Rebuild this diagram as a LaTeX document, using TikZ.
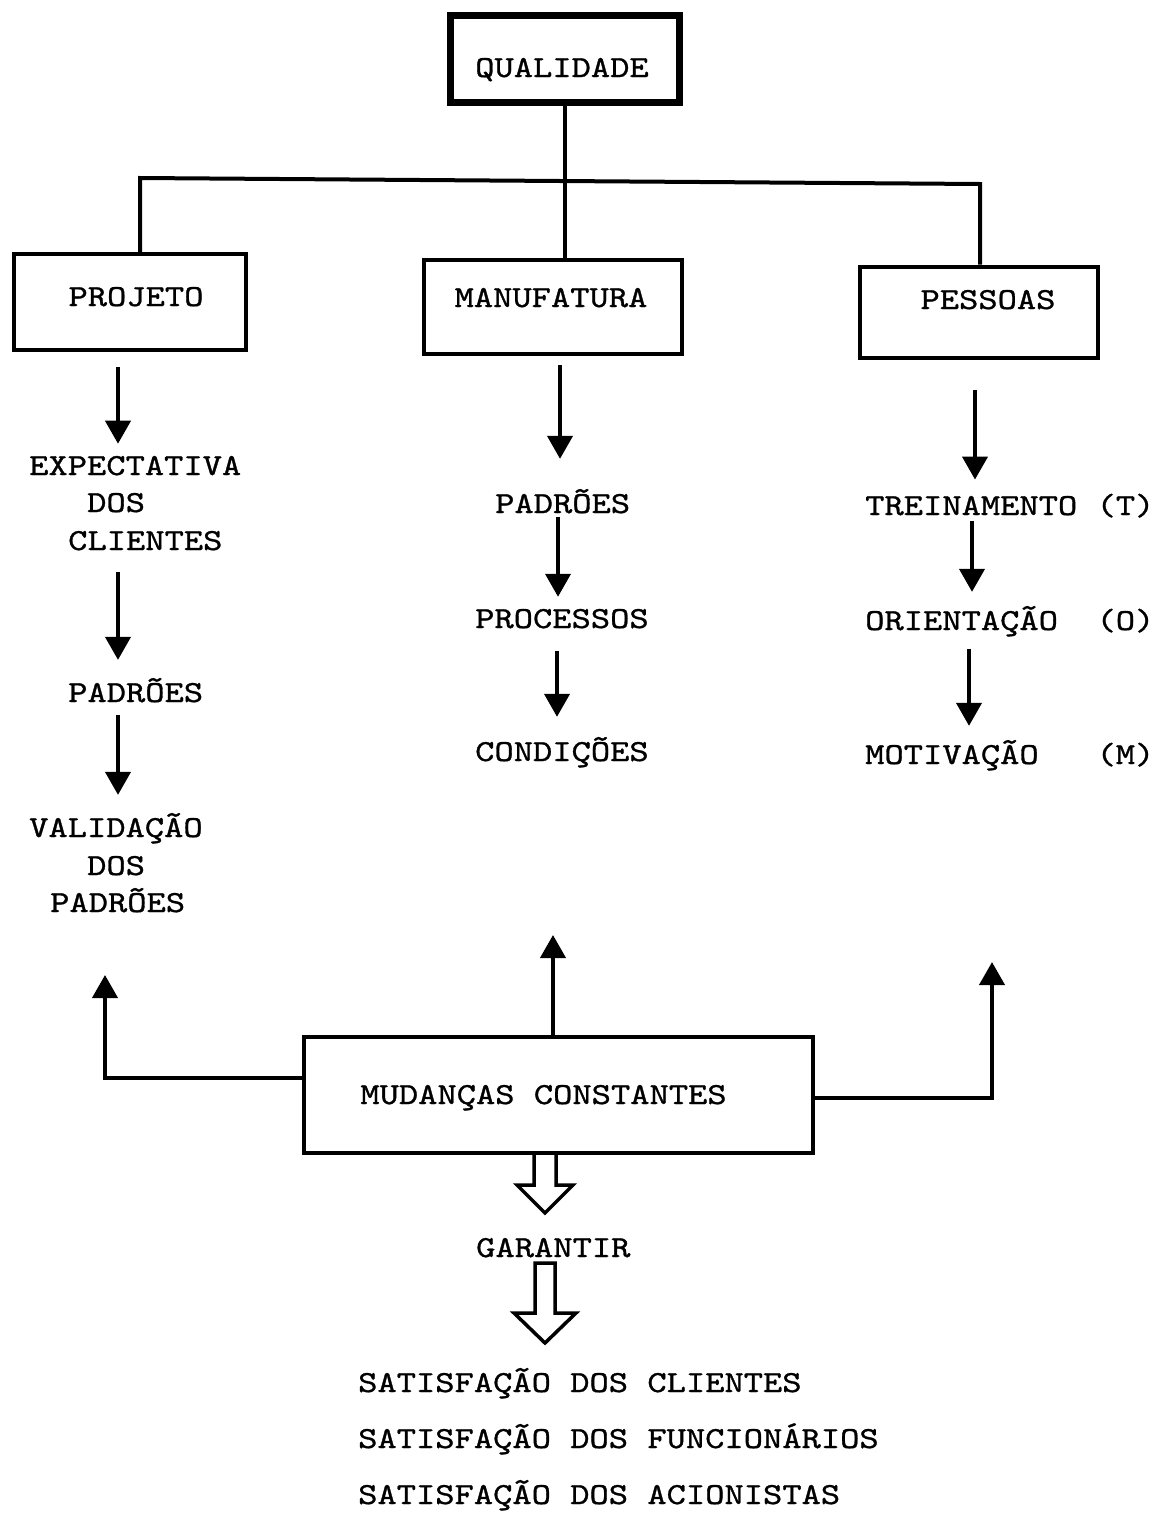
\documentclass[tikz,border=0pt]{standalone}
\usepackage{fontspec}
\newfontfamily\tyw{lmmono10-regular.otf}[FakeStretch=1.2,FakeBold=1]
\usetikzlibrary{arrows.meta,calc}
\newcommand\nudge[3]{\raisebox{#2}[\height][\depth]{\rlap{\hspace*{#1}#3}\phantom{#3}}}
\tikzset{
  tt/.style={font={\tyw\fontsize{30.6pt}{38pt}\selectfont}},
  txt/.style={tt, inner sep=0pt, anchor=base west},
  box/.style={tt, draw, line width=4pt, inner sep=0pt, text height=18pt, text depth=0pt},
  ln/.style={line width=4pt},
  arr/.style={line width=4pt, -{Triangle[width=25pt,length=23pt]}},
  hollow/.style={line width=3.5pt, line join=miter}
}
\begin{document}
\begin{tikzpicture}[x=1pt,y=-1pt]
\useasboundingbox (0,0) rectangle (1160,1515);
\fill[white] (0,0) rectangle (1160,1515);

% boxes
\node[box, line width=7.5pt, minimum width=229pt, minimum height=87pt] (qual) at (565,59) {\nudge{-3pt}{-9pt}{QUALIDADE}};
\node[box, minimum width=232pt, minimum height=96pt] (proj) at (130,302) {\nudge{6pt}{5pt}{PROJETO}};
\node[box, minimum width=258pt, minimum height=94pt] (manu) at (553,307) {\nudge{-2pt}{9pt}{MANUFATURA}};
\node[box, minimum width=238pt, minimum height=91pt] (pess) at (979,312) {\nudge{9pt}{12pt}{PESSOAS}};
\node[box, minimum width=509pt, minimum height=116pt] (mud) at (558.5,1095) {\nudge{-15pt}{0pt}{MUDANÇAS CONSTANTES}};

% tree connectors
\coordinate (busL) at (140,178);
\coordinate (busR) at (980,184);
\draw[ln] (qual.south) -- (qual.south |- manu.north);
\draw[ln] (busL |- proj.north) -- (busL) -- (busR) -- (busR |- pess.north);

% left column
\node[txt] (e1) at (29,475) {EXPECTATIVA};
\node[txt] (e2) at (87,512) {DOS};
\node[txt] (e3) at (68,550) {CLIENTES};
\node[txt] (p1) at (68,702) {PADRÕES};
\node[txt] (v1) at (29,837) {VALIDAÇÃO};
\node[txt] (v2) at (87,875) {DOS};
\node[txt] (v3) at (50,912) {PADRÕES};
\coordinate (cL) at (118,0);
\draw[arr] ($(proj.south -| cL)+(0,15)$) -- ($(e1.north -| cL)+(0,-12)$);
\draw[arr] ($(e3.south -| cL)+(0,21)$) -- ($(p1.north -| cL)+(0,-18)$);
\draw[arr] ($(p1.south -| cL)+(0,12)$) -- ($(v1.north -| cL)+(0,-18)$);

% middle column
\node[txt] (m1) at (495,513) {PADRÕES};
\node[txt] (m2) at (475,628) {PROCESSOS};
\node[txt] (m3) at (475,761) {CONDIÇÕES};
\coordinate (cM1) at (560,0);
\coordinate (cM2) at (558,0);
\coordinate (cM3) at (557,0);
\draw[arr] ($(manu.south -| cM1)+(0,9)$) -- ($(m1.north -| cM1)+(0,-30)$);
\draw[arr] ($(m1.south -| cM2)+(0,3)$) -- ($(m2.north -| cM2)+(0,-12)$);
\draw[arr] ($(m2.south -| cM3)+(0,22)$) -- ($(m3.north -| cM3)+(0,-20)$);

% right column
\node[txt] (r1) at (865,515) {TREINAMENTO (T)};
\node[txt] (r2) at (865,630) {ORIENTAÇÃO~~(O)};
\node[txt] (r3) at (865,764) {MOTIVAÇÃO~~~(M)};
\coordinate (cR1) at (975,0);
\coordinate (cR2) at (972,0);
\coordinate (cR3) at (969,0);
\draw[arr] ($(pess.south -| cR1)+(0,30)$) -- ($(r1.north -| cR1)+(0,-14)$);
\draw[arr] ($(r1.south -| cR2)+(0,3)$) -- ($(r2.north -| cR2)+(0,-14)$);
\draw[arr] ($(r2.south -| cR3)+(0,12)$) -- ($(r3.north -| cR3)+(0,-14)$);

% feedback arrows from MUDANCAS CONSTANTES
\coordinate (tipL) at (105,975);
\coordinate (tipM) at (553,935);
\coordinate (tipR) at (992,962);
\draw[arr] (tipM |- mud.north) -- (tipM);
\draw[arr] ($(mud.west)+(0,-17)$) -| (tipL);
\draw[arr] ($(mud.east)+(0,3)$) -| (tipR);

% outcomes
\node[txt] (gar) at (476,1257) {GARANTIR};
\node[txt] (s1) at (358,1392) {SATISFAÇÃO DOS CLIENTES};
\node[txt] (s2) at (358,1448) {SATISFAÇÃO DOS FUNCIONÁRIOS};
\node[txt] (s3) at (358,1504) {SATISFAÇÃO DOS ACIONISTAS};

% hollow arrows
\coordinate (h1) at (545,1153);
\coordinate (h2) at (545,1263);
\draw[hollow] ($(h1)+(-11,0)$) -- ++(0,32) -- ++(-17,0) -- ++(28,28) -- ++(28,-28) -- ++(-17,0) -- ++(0,-32);
\draw[hollow] ($(h2)+(-10,0)$) -- ++(0,50) -- ++(-21,0) -- ++(31,30) -- ++(31,-30) -- ++(-21,0) -- ++(0,-50) -- cycle;
\end{tikzpicture}
\end{document}
